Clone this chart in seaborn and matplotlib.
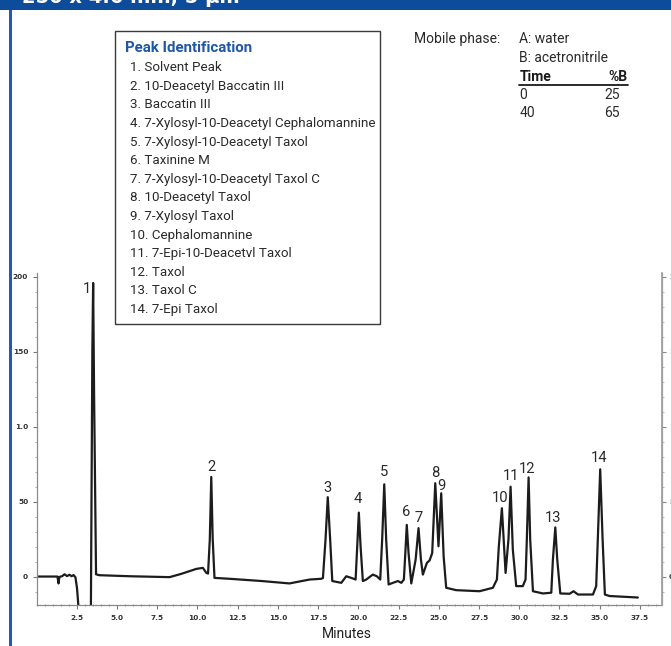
import numpy as np
import pandas as pd
import matplotlib
matplotlib.use("Agg")
import matplotlib.pyplot as plt
import seaborn as sns
from matplotlib import font_manager as fm
from matplotlib.font_manager import FontProperties
from matplotlib.textpath import TextPath
from matplotlib.patches import Rectangle
from matplotlib.lines import Line2D
from matplotlib.ticker import MultipleLocator, FixedLocator

# ---------------- data ----------------
trace_time = [0.00, 1.30, 1.37, 1.42, 1.60, 1.74, 1.90, 2.05, 2.18, 2.30, 2.42, 2.52, 2.62,
              3.38, 3.47, 3.52, 3.58, 3.70, 3.90, 5.80, 8.27, 9.00, 9.93, 10.34, 10.55,
              10.66, 10.77, 10.86, 10.95, 11.06, 12.00, 14.00, 15.72, 16.97, 17.69,
              17.80, 17.96, 18.10, 18.25, 18.38, 18.94, 19.25, 19.56,
              19.83, 19.93, 20.03, 20.14, 20.28, 20.49, 20.90, 21.15,
              21.36, 21.48, 21.61, 21.73, 21.88, 22.15, 22.46, 22.67,
              22.83, 22.92, 23.01, 23.12, 23.29, 23.56, 23.74, 23.89, 24.01,
              24.26, 24.43, 24.59, 24.78, 24.98, 25.15, 25.30, 25.46,
              26.08, 27.53, 28.36, 28.61, 28.73, 28.92, 29.15, 29.33, 29.46, 29.60, 29.81,
              30.22, 30.39, 30.47, 30.58, 30.68, 30.85, 31.47, 31.99,
              32.09, 32.24, 32.36, 32.55, 33.13, 33.37, 33.65, 34.58,
              34.78, 34.88, 35.03, 35.18, 35.32, 35.61, 37.37]
trace_signal = [0.0, 0.0, -4.6, -0.3, 0.3, 1.5, 0.3, 1.2, 0.2, 1.0, -0.5, -8.0, -22.0,
                -22.0, 150.0, 196.0, 120.0, 1.5, 0.9, 0.2, -0.4, 1.8, 5.1, 5.8, 2.5,
                2.0, 25.0, 66.5, 25.0, -0.9, -1.5, -3.0, -4.6, -2.0, -1.5,
                -1.0, 24.6, 53.0, 24.6, -3.0, -4.2, 0.2, -0.9,
                -2.0, 20.0, 42.7, 20.0, -3.0, -2.0, 1.3, 0.2,
                -2.0, 24.6, 61.6, 24.6, -5.3, -4.2, -3.0, -4.2,
                -2.0, 15.7, 34.5, 15.7, -4.6, 11.3, 32.3, 11.3, 1.3,
                9.1, 10.8, 15.7, 62.3, 20.2, 55.6, 13.5, -7.5,
                -9.1, -9.8, -7.5, -2.0, 20.1, 45.6, 2.4, 25.0, 60.0, 17.9, -6.4,
                -6.4, -2.0, 24.6, 66.2, 24.6, -9.8, -11.3, -10.8,
                11.3, 32.8, 11.3, -11.3, -11.5, -9.8, -12.0, -12.0,
                -6.4, 24.6, 71.6, 24.6, -12.0, -13.0, -14.0]

peak_ids = ["1", "2", "3", "4", "5", "6", "7", "8", "9", "10", "11", "12", "13", "14"]
peak_label_time = [3.12, 10.85, 18.10, 19.97, 21.57, 22.98, 23.74, 24.80, 25.15,
                   28.78, 29.46, 30.47, 32.13, 34.99]
peak_label_signal = [192.0, 73.0, 59.0, 51.6, 69.6, 43.4, 39.4, 68.9, 60.5,
                     52.3, 67.1, 71.6, 39.4, 78.9]

compound_names = ["Solvent Peak", "10-Deacetyl Baccatin III", "Baccatin III",
                  "7-Xylosyl-10-Deacetyl Cephalomannine", "7-Xylosyl-10-Deacetyl Taxol",
                  "Taxinine M", "7-Xylosyl-10-Deacetyl Taxol C", "10-Deacetyl Taxol",
                  "7-Xylosyl Taxol", "Cephalomannine", "7-Epi-10-Deacetvl Taxol",
                  "Taxol", "Taxol C", "7-Epi Taxol"]

gradient_time = ["0", "40"]
gradient_b = ["25", "65"]

x_ticks = [2.5, 5.0, 7.5, 10.0, 12.5, 15.0, 17.5, 20.0, 22.5, 25.0, 27.5, 30.0, 32.5, 35.0, 37.5]
x_tick_labels = ["2.5", "5.0", "7.5", "10.0", "12.5", "15.0", "17.5", "20.0", "22.5",
                 "25.0", "27.5", "30.0", "32.5", "35.0", "37.5"]
y_ticks = [0, 50, 100, 150, 200]
y_tick_labels = ["0", "50", "1.0", "150", "200"]
y_tick_labels_right = ["0", "50", "100", "150", "200"]
banner_text = "250 x 4.6 mm, 5 µm"

# ---------------- style ----------------
W, H = 671, 646
sns.set_theme(style="white")

fig = plt.figure(figsize=(W / 100, H / 100), dpi=100)
fig.patch.set_facecolor("white")

# choose the installed sans family that is narrowest relative to its cap height
# (the reference uses a condensed face)
names = {f.name for f in fm.fontManager.ttflist}
candidates = []
for nm in ["Liberation Sans Narrow", "Noto Sans CJK JP", "Liberation Sans", "Roboto",
           "Lato", "Inter", "Open Sans", "Noto Sans", "DejaVu Sans"]:
    if nm in names:
        candidates.append(nm)
probe_str = "4. 7-Xylosyl-10-Deacetyl Cephalomannine"
best, best_ratio = "DejaVu Sans", 1e9
for nm in candidates:
    try:
        fp = FontProperties(family=nm, size=10)
        wv = TextPath((0, 0), probe_str, prop=fp).get_extents().width
        hv = TextPath((0, 0), "H", prop=fp).get_extents().height
        ratio = wv / hv
        if ratio < best_ratio:
            best, best_ratio = nm, ratio
    except Exception:
        pass
FONT = dict(family=[best, "DejaVu Sans"])
plt.rcParams['font.family'] = FONT["family"]


def fx(x):
    return x / W


def fy(y):
    return 1 - y / H


def ftext(x, y, s, **kw):
    opts = dict(FONT)
    opts.update(kw)
    return fig.text(fx(x), fy(y), s, **opts)


# ---------------- chromatogram ----------------
ax = fig.add_axes([fx(36.5), fy(605), (662 - 36.5) / W, (605 - 272.5) / H])
df = pd.DataFrame({"Minutes": trace_time, "Signal": trace_signal})
sns.lineplot(data=df, x="Minutes", y="Signal", ax=ax, color="#1c1c1c", lw=1.6,
             sort=False, estimator=None)
ax.set_xlim(0, 38.87)
ax.set_ylim(-19, 203)
ax.set_xlabel("")
ax.set_ylabel("")

ax.xaxis.set_major_locator(FixedLocator(x_ticks))
ax.set_xticklabels(x_tick_labels)
ax.xaxis.set_minor_locator(MultipleLocator(0.5))
ax.yaxis.set_major_locator(FixedLocator(y_ticks))
ax.set_yticklabels(y_tick_labels)
ax.yaxis.set_minor_locator(MultipleLocator(10))

for lab in ax.get_xticklabels() + ax.get_yticklabels():
    lab.set_fontfamily("DejaVu Sans")
    lab.set_fontsize(5.3)
    lab.set_fontweight("bold")
    lab.set_color("#333333")

ax.tick_params(axis="x", which="major", direction="out", length=3, width=0.8,
               color="#777777", pad=4, bottom=True)
ax.tick_params(axis="x", which="minor", direction="inout", length=2, width=0.6,
               color="#888888", bottom=True)
ax.tick_params(axis="y", which="major", direction="out", length=3, width=0.8,
               color="#777777", pad=3, left=True)
ax.tick_params(axis="y", which="minor", direction="out", length=1.6, width=0.6,
               color="#999999", left=True)

ax.spines["top"].set_visible(False)
ax.spines["left"].set_color("#8a8a8a")
ax.spines["left"].set_linewidth(0.9)
ax.spines["bottom"].set_color("#8a8a8a")
ax.spines["bottom"].set_linewidth(0.9)
ax.spines["bottom"].set_linestyle((0, (3, 1)))
ax.spines["right"].set_color("#a0a0a0")
ax.spines["right"].set_linewidth(0.9)

ax2 = ax.twinx()
ax2.set_ylim(ax.get_ylim())
ax2.yaxis.set_major_locator(FixedLocator(y_ticks))
ax2.set_yticklabels(y_tick_labels_right)
ax2.yaxis.set_minor_locator(MultipleLocator(10))
ax2.tick_params(axis="y", which="major", direction="out", length=3, width=0.8,
                color="#888888", pad=2, right=True)
ax2.tick_params(axis="y", which="minor", direction="out", length=1.6, width=0.6,
                color="#aaaaaa", right=True)
for lab in ax2.get_yticklabels():
    lab.set_fontfamily("DejaVu Sans")
    lab.set_fontsize(5.3)
    lab.set_fontweight("bold")
    lab.set_color("#333333")
for s in ["top", "left", "bottom"]:
    ax2.spines[s].set_visible(False)
ax2.spines["right"].set_color("#a0a0a0")
ax2.grid(False)
ax.grid(False)

pk_texts = []
for pid, t, v in zip(peak_ids, peak_label_time, peak_label_signal):
    pk_texts.append(ax.text(t, v, pid, ha="center", va="center", fontsize=11,
                            color="#2a2a2a", clip_on=False, **FONT))

minutes = ftext(347, 634, "Minutes", ha="center", va="center", fontsize=10, color="#222222")

# ---------------- peak identification box ----------------
fig.add_artist(Rectangle((fx(114.5), fy(324)), (380.5 - 114.5) / W, (324 - 31) / H,
                         transform=fig.transFigure, fill=False, ec="#3a3a3a", lw=1.0))
title = ftext(125.5, 48.3, "Peak Identification", ha="left", va="center",
              fontsize=10.5, fontweight="bold", color="#1f56a5")
items = []
for i, name in enumerate(compound_names):
    items.append(ftext(130, 67.7 + i * 18.6, f"{i + 1}. {name}", ha="left", va="center",
                       fontsize=10.5, color="#2a2a2a"))

# ---------------- mobile phase ----------------
mp = []
mp.append(ftext(414, 39, "Mobile phase:", ha="left", va="center", color="#2a2a2a"))
mp.append(ftext(519.3, 39, "A: water", ha="left", va="center", color="#2a2a2a"))
mp.append(ftext(519.3, 58.3, "B: acetronitrile", ha="left", va="center", color="#2a2a2a"))
mp.append(ftext(519.3, 77.3, "Time", ha="left", va="center", fontweight="bold",
                color="#1a1a1a"))
mp.append(ftext(627.7, 77.3, "%B", ha="right", va="center", fontweight="bold",
                color="#1a1a1a"))
fig.add_artist(Line2D([fx(519.3), fx(627.7)], [fy(84.5), fy(84.5)],
                      transform=fig.transFigure, color="#1a1a1a", lw=1.3))
for j, (tt, bb) in enumerate(zip(gradient_time, gradient_b)):
    yy = 95 + j * 18.3
    mp.append(ftext(519.3, yy, tt, ha="left", va="center", color="#2a2a2a"))
    mp.append(ftext(604, yy, bb, ha="left", va="center", color="#2a2a2a"))

# ---------------- fit text widths to the reference ----------------
fig.canvas.draw()
rend = fig.canvas.get_renderer()


def scale_for(artist, target_px):
    w = artist.get_window_extent(rend).width
    return artist.get_fontsize() * target_px / w


item_size = scale_for(items[3], 245)
for t in items:
    t.set_fontsize(item_size)
title.set_fontsize(scale_for(title, 128))
mp_size = scale_for(mp[0], 86)
for t in mp:
    t.set_fontsize(mp_size)
pk_size = min(11.5, max(item_size * 1.1, scale_for(pk_texts[13], 14)))
for t in pk_texts:
    t.set_fontsize(pk_size)
minutes.set_fontsize(scale_for(minutes, 50))

# ---------------- frame decorations ----------------
fig.add_artist(Rectangle((0, fy(10)), 1, 10 / H, transform=fig.transFigure,
                         color="#0d4b9b", lw=0))
fig.add_artist(Rectangle((fx(8.5), 0), 3.5 / W, fy(10), transform=fig.transFigure,
                         color="#1d5cb0", lw=0))
fig.text(fx(22), fy(3.2), banner_text, ha="left", va="baseline", fontsize=14,
         fontweight="bold", color="white", family=["DejaVu Sans"])

fig.savefig("out.png", dpi=100)
